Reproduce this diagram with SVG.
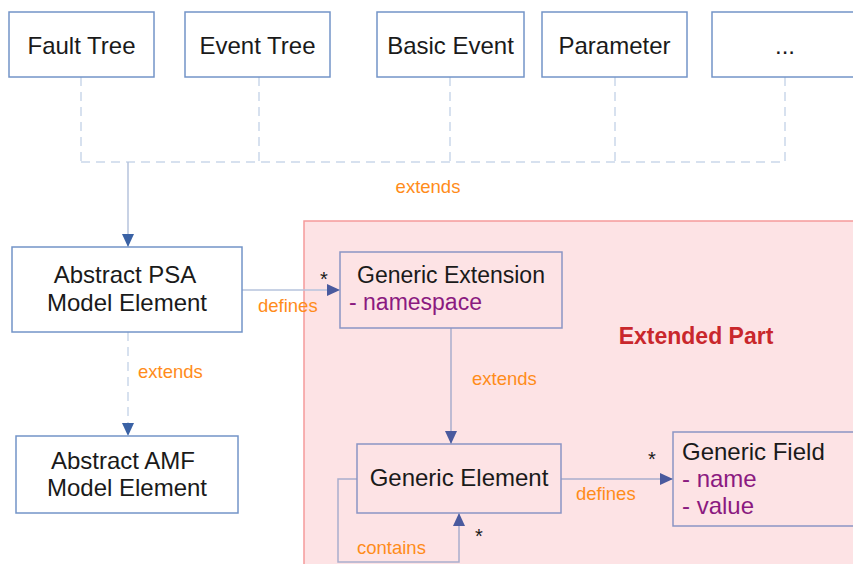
<svg xmlns="http://www.w3.org/2000/svg" width="853" height="564" viewBox="0 0 853 564">
<defs>
<style>
.box{fill:#ffffff;stroke:#7394c8;stroke-width:1.5}
.pbox{fill:#fde3e5;stroke:#8a95c4;stroke-width:1.5}
.t{font-family:"Liberation Sans",Arial,sans-serif;font-size:24px;fill:#1a1a1a}
.attr{font-family:"Liberation Sans",Arial,sans-serif;font-size:24px;fill:#8b1a80}
.lbl{font-family:"Liberation Sans",Arial,sans-serif;font-size:18.5px;fill:#ff8c1a}
.star{font-family:"Liberation Sans",Arial,sans-serif;font-size:20px;fill:#1a1a1a}
.dash{fill:none;stroke:#cad7ea;stroke-width:1.5;stroke-dasharray:9,6}
.solid{fill:none;stroke:#b6c3dc;stroke-width:1.5}
.psolid{fill:none;stroke:#a9aecd;stroke-width:1.5}
</style>
<marker id="arr" markerWidth="14" markerHeight="14" refX="13" refY="7" orient="auto" markerUnits="userSpaceOnUse">
<path d="M0,1 L13,7 L0,13 Z" fill="#3a62a5"/>
</marker>
<marker id="parr" markerWidth="14" markerHeight="14" refX="13" refY="7" orient="auto" markerUnits="userSpaceOnUse">
<path d="M0,1 L13,7 L0,13 Z" fill="#4a5a9e"/>
</marker>
</defs>
<rect width="853" height="564" fill="#ffffff"/>

<g id="extended-part">
<rect x="304" y="221" width="560" height="360" fill="#fde3e5" stroke="#f59a9a" stroke-width="1.5"/>
<text x="696" y="344" text-anchor="middle" font-family="'Liberation Sans',Arial,sans-serif" font-size="23" font-weight="bold" fill="#c9272c">Extended Part</text>
</g>

<g id="connectors">
<path class="dash" d="M81,77 V162 M259,77 V162 M450,77 V162 M615,77 V162 M785,77 V162 M81,162 H785"/>
<path class="solid" d="M128,162 V247" marker-end="url(#arr)"/>
<text class="lbl" x="428" y="193" text-anchor="middle">extends</text>
<path class="dash" d="M128,332 V436" marker-end="url(#arr)"/>
<text class="lbl" x="138" y="378">extends</text>
<path class="solid" d="M242,290 H340" marker-end="url(#parr)"/>
<text class="lbl" x="258" y="312">defines</text>
<text class="star" x="320" y="286">*</text>
<path class="psolid" d="M451,328 V444" marker-end="url(#parr)"/>
<text class="lbl" x="472" y="385">extends</text>
<path class="psolid" d="M561,479 H673" marker-end="url(#parr)"/>
<text class="lbl" x="576" y="500">defines</text>
<text class="star" x="648" y="466">*</text>
<path class="psolid" d="M357,479 H338 V562 H459 V513" marker-end="url(#parr)"/>
<text class="lbl" x="357" y="554">contains</text>
<text class="star" x="475" y="543">*</text>
</g>

<g id="fault-tree">
<rect class="box" x="9" y="12" width="145" height="65"/>
<text class="t" x="81.5" y="54" text-anchor="middle">Fault Tree</text>
</g>
<g id="event-tree">
<rect class="box" x="185" y="12" width="145" height="65"/>
<text class="t" x="257.5" y="54" text-anchor="middle">Event Tree</text>
</g>
<g id="basic-event">
<rect class="box" x="377" y="12" width="147" height="65"/>
<text class="t" x="450.5" y="54" text-anchor="middle">Basic Event</text>
</g>
<g id="parameter">
<rect class="box" x="542" y="12" width="145" height="65"/>
<text class="t" x="614.5" y="54" text-anchor="middle">Parameter</text>
</g>
<g id="more">
<rect class="box" x="712" y="12" width="150" height="65"/>
<text class="t" x="785" y="54" text-anchor="middle">...</text>
</g>

<g id="abstract-psa">
<rect class="box" x="12" y="247" width="230" height="85"/>
<text class="t" x="125" y="283" text-anchor="middle">Abstract PSA</text>
<text class="t" x="127" y="311" text-anchor="middle">Model Element</text>
</g>
<g id="abstract-amf">
<rect class="box" x="16" y="436" width="222" height="77"/>
<text class="t" x="123" y="469" text-anchor="middle">Abstract AMF</text>
<text class="t" x="127" y="496" text-anchor="middle">Model Element</text>
</g>

<g id="generic-extension">
<rect class="pbox" x="340" y="252" width="222" height="76"/>
<text class="t" x="357" y="283" style="font-size:23px">Generic Extension</text>
<text class="attr" x="349" y="310" style="font-size:23px">- namespace</text>
</g>
<g id="generic-element">
<rect class="pbox" x="357" y="444" width="204" height="69"/>
<text class="t" x="459" y="486" text-anchor="middle">Generic Element</text>
</g>
<g id="generic-field">
<rect class="pbox" x="673" y="432" width="200" height="94"/>
<text class="t" x="682" y="460">Generic Field</text>
<text class="attr" x="682" y="487">- name</text>
<text class="attr" x="682" y="514">- value</text>
</g>
</svg>
